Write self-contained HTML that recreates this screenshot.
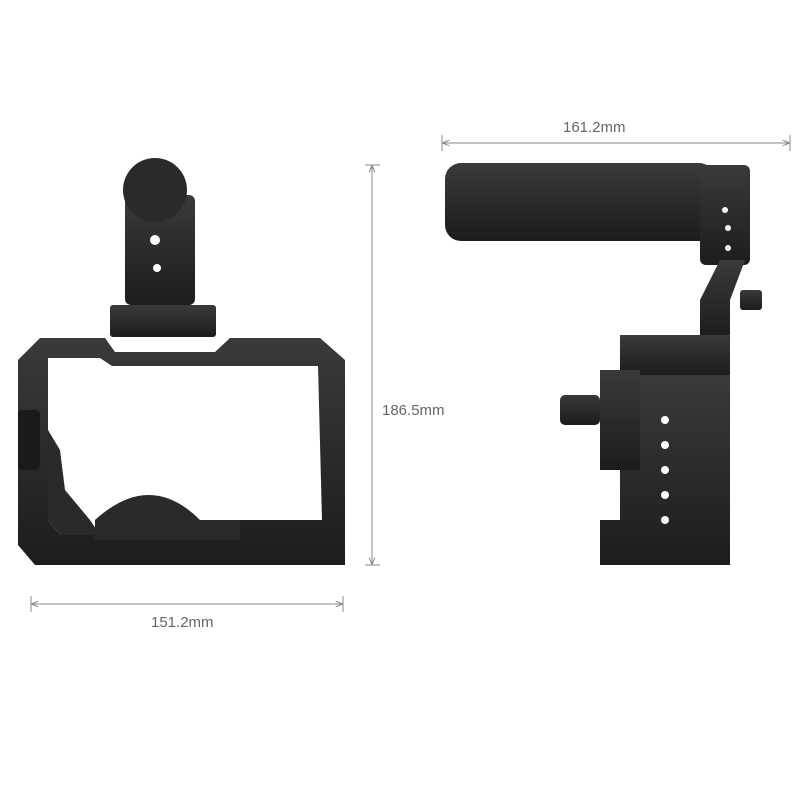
<!DOCTYPE html>
<html><head><style>
html,body{margin:0;padding:0;background:#fff;width:800px;height:800px;overflow:hidden}
svg{display:block}
text{font-family:"Liberation Sans",sans-serif;fill:#666;font-size:15px}
</style></head><body>
<svg width="800" height="800" viewBox="0 0 800 800" xmlns="http://www.w3.org/2000/svg">
<defs>
<marker id="a" viewBox="0 0 10 10" refX="9" refY="5" markerWidth="7" markerHeight="7" orient="auto-start-reverse"><path d="M0,1 L10,5 L0,9" fill="none" stroke="#888" stroke-width="1.5"/></marker>
<linearGradient id="g" x1="0" y1="0" x2="0" y2="1"><stop offset="0" stop-color="#3a3a3c"/><stop offset="1" stop-color="#1c1c1e"/></linearGradient>
</defs>
<!-- dimension lines -->
<g stroke="#888" stroke-width="1" fill="none">
<line x1="372" y1="166" x2="372" y2="564" marker-start="url(#a)" marker-end="url(#a)"/>
<line x1="365" y1="165" x2="380" y2="165"/><line x1="365" y1="565" x2="380" y2="565"/>
<line x1="32" y1="604" x2="342" y2="604" marker-start="url(#a)" marker-end="url(#a)"/>
<line x1="31" y1="596" x2="31" y2="612"/><line x1="343" y1="596" x2="343" y2="612"/>
<line x1="443" y1="143" x2="789" y2="143" marker-start="url(#a)" marker-end="url(#a)"/>
<line x1="442" y1="135" x2="442" y2="151"/><line x1="790" y1="135" x2="790" y2="151"/>
</g>
<text x="382" y="415">186.5mm</text>
<text x="151" y="627">151.2mm</text>
<text x="563" y="132">161.2mm</text>

<!-- left cage -->
<g fill="url(#g)">
<rect x="125" y="195" width="70" height="110" rx="6"/>
<circle cx="155" cy="190" r="32" fill="#2a2a2c"/>
<rect x="110" y="305" width="106" height="32" rx="3"/>
<path d="M40,338 L105,338 L115,352 L215,352 L230,338 L320,338 L345,360 L345,565 L35,565 L18,545 L18,360 Z"/>
</g>
<path d="M48,358 L100,358 L112,366 L318,366 L322,520 L240,520 L235,535 L60,535 L48,520 Z" fill="#fff"/>
<path d="M48,430 L48,520 L60,535 L100,535 L90,520 L65,490 L60,450 Z" fill="#2a2a2c"/>
<path d="M95,520 Q150,470 200,520 L240,520 L240,540 L95,540 Z" fill="#2a2a2c"/>
<circle cx="155" cy="240" r="5" fill="#fff"/><circle cx="157" cy="268" r="4" fill="#fff"/>
<rect x="18" y="410" width="22" height="60" rx="4" fill="#1a1a1a"/>

<!-- right view -->
<g fill="url(#g)">
<rect x="445" y="163" width="270" height="78" rx="16"/>
<rect x="700" y="165" width="50" height="100" rx="6"/>
<path d="M720,260 L745,260 L730,300 L730,340 L700,340 L700,300 Z"/>
<rect x="620" y="335" width="110" height="40"/>
<path d="M600,375 L730,375 L730,565 L600,565 L600,520 L620,520 L620,375 Z"/>
<rect x="600" y="370" width="40" height="100"/>
<rect x="560" y="395" width="40" height="30" rx="5"/>
<rect x="740" y="290" width="22" height="20" rx="3"/>
</g>
<g fill="#fff">
<circle cx="725" cy="210" r="3"/><circle cx="728" cy="228" r="3"/><circle cx="728" cy="248" r="3"/>
<circle cx="665" cy="420" r="4"/><circle cx="665" cy="445" r="4"/><circle cx="665" cy="470" r="4"/><circle cx="665" cy="495" r="4"/><circle cx="665" cy="520" r="4"/>
</g>
</svg>
</body></html>
